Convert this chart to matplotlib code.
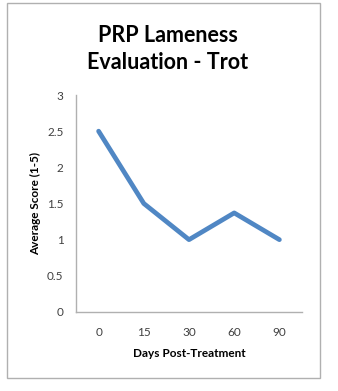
import matplotlib
matplotlib.use("Agg")
import matplotlib.pyplot as plt
from matplotlib.patches import Rectangle

# Lameness scores at trot, averaged per evaluation day
days = ["0", "15", "30", "60", "90"]
avg_score = [2.5, 1.5, 1.0, 1.37, 1.0]
y_ticks = [0, 0.5, 1, 1.5, 2, 2.5, 3]
y_tick_labels = ["0", "0.5", "1", "1.5", "2", "2.5", "3"]

plt.rcParams["font.family"] = ["Lato", "DejaVu Sans"]

W, H = 338, 391
fig = plt.figure(figsize=(W / 100, H / 100), dpi=100)
fig.patch.set_facecolor("white")

# chart frame
fig.patches.append(Rectangle((7 / W, 1 - 378 / H), (320 - 7) / W, (378 - 3) / H,
                             transform=fig.transFigure, fill=False,
                             edgecolor="#B0B0B0", linewidth=1.0))

ax = fig.add_axes([76 / W, 1 - 312 / H, (302 - 76) / W, (312 - 95) / H])
x = list(range(len(days)))
ax.plot(x, avg_score, color="#5087C4", linewidth=3.4,
        solid_capstyle="round", solid_joinstyle="round")

ax.set_xlim(-0.5, len(days) - 0.5)
ax.set_ylim(0, 3)
ax.set_xticks(x)
ax.set_xticklabels(days)
ax.set_yticks(y_ticks)
ax.set_yticklabels(y_tick_labels)
ax.tick_params(axis="both", length=0, labelsize=8.5, colors="#404040")
ax.tick_params(axis="y", pad=9)
ax.tick_params(axis="x", pad=11)

for side in ("top", "right"):
    ax.spines[side].set_visible(False)
for side in ("left", "bottom"):
    ax.spines[side].set_color("#B0B0B0")
    ax.spines[side].set_linewidth(1.0)

ax.set_xlabel("Days Post-Treatment", fontsize=8.5, fontweight="bold", labelpad=7)
ax.set_ylabel("Average Score (1-5)", fontsize=8.5, fontweight="bold", labelpad=4)

fig.text(168 / W, 1 - 49 / H, "PRP Lameness\nEvaluation - Trot", ha="center",
         va="center", fontsize=15.5, fontweight="bold", linespacing=1.3,
         color="black")

fig.savefig("out.png", dpi=100)
